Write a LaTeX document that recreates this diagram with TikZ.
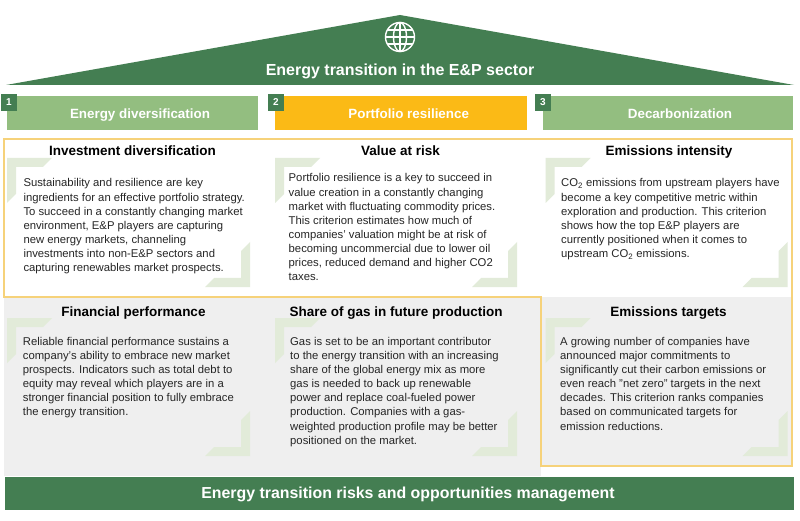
\documentclass[tikz,border=0pt]{standalone}
\usepackage{fontspec}
\setmainfont{Liberation Sans}
\definecolor{dgreen}{HTML}{447E52}
\definecolor{lgreen}{HTML}{93BE80}
\definecolor{hyellow}{HTML}{FBBA16}
\definecolor{oyellow}{HTML}{F6D27A}
\definecolor{cgray}{HTML}{EFEFEF}
\definecolor{brk}{HTML}{E2EBD9}
\definecolor{txt}{HTML}{262626}
\newcommand\fs{\rule{0pt}{10pt}}
\newcommand\tlbracket[2]{\fill[brk] (#1,#2) -- ++(45,0) -- ++(-9,9) -- ++(-27,0) -- ++(0,27) -- ++(-9,9) -- cycle;}
\newcommand\brbracket[2]{\fill[brk] (#1,#2) -- ++(-45,0) -- ++(9,-9) -- ++(27,0) -- ++(0,-27) -- ++(9,-9) -- cycle;}
\begin{document}
\begin{tikzpicture}[x=1pt,y=-1pt,
  body/.style={anchor=north west, inner sep=0, align=left, font=\fontsize{11.3}{14.15}\selectfont, text=txt},
  celltitle/.style={anchor=base, inner sep=0, font=\bfseries\fontsize{13.5}{16}\selectfont, text=black},
  hdrtext/.style={anchor=base, inner sep=0, font=\bfseries\fontsize{13.4}{16}\selectfont, text=white},
  numbox/.style={fill=dgreen, minimum width=16pt, minimum height=17pt, inner sep=0, text=white, font=\bfseries\fontsize{10}{12}\selectfont},
  bigtext/.style={anchor=base, inner sep=0, font=\bfseries\fontsize{16}{19}\selectfont, text=white}]
\useasboundingbox (0,0) rectangle (800,521);
\fill[white] (0,0) rectangle (800,521);
% roof
\fill[dgreen] (6,85) -- (400,15) -- (794,85) -- cycle;
\draw[white, line width=1.4pt] (400,37) circle [radius=14.5pt];
\draw[white, line width=1.4pt] (400,37) ellipse [x radius=6.5pt, y radius=14.5pt];
\draw[white, line width=1.2pt] (400,22.5) -- (400,51.5);
\draw[white, line width=1.2pt] (385.5,37) -- (414.5,37);
\draw[white, line width=1.2pt] (387.6,30) -- (412.4,30);
\draw[white, line width=1.2pt] (387.6,44) -- (412.4,44);
\node[bigtext] (roof) at (400,76) {Energy transition in the E\&P sector};
% headers
\fill[lgreen] (6.7,96.5) rectangle (258.3,130);
\fill[hyellow] (275,96.5) rectangle (527,130);
\fill[lgreen] (543,96.5) rectangle (793,130);
\node[numbox] (n1) at (9,102.5) {1};
\node[numbox] (n2) at (276,102.5) {2};
\node[numbox] (n3) at (543,102.5) {3};
\node[hdrtext] (h1) at (140,118.3) {Energy diversification};
\node[hdrtext] (h2) at (408.7,118.3) {Portfolio resilience};
\node[hdrtext] (h3) at (680,118.3) {Decarbonization};
% gray regions
\fill[cgray] (4,297) rectangle (541,476);
\fill[cgray] (541,297) rectangle (792,466);
% brackets
\tlbracket{7}{158}
\tlbracket{275}{158}
\tlbracket{545.5}{158}
\brbracket{250}{287}
\brbracket{517}{287}
\brbracket{787.5}{287}
\tlbracket{7}{318}
\tlbracket{275}{318}
\tlbracket{545.5}{318}
\brbracket{250}{456}
\brbracket{517}{456}
\brbracket{787.5}{456}
% outline
\draw[oyellow, line width=1.3pt] (4,139) -- (792,139) -- (792,466) -- (541,466) -- (541,297) -- (4,297) -- cycle;
% titles
\node[celltitle] (t1) at (132.5,155.5) {Investment diversification};
\node[celltitle] (t2) at (400.5,155.5) {Value at risk};
\node[celltitle] (t3) at (669,155.5) {Emissions intensity};
\node[celltitle] (t4) at (133.5,316.5) {Financial performance};
\node[celltitle] (t5) at (396,316.5) {Share of gas in future production};
\node[celltitle] (t6) at (668.5,316.5) {Emissions targets};
% body texts
\node[body] (b1) at (23.3,176.7) {\fs Sustainability and resilience are key\\
ingredients for an effective portfolio strategy.\\
To succeed in a constantly changing market\\
environment, E\&P players are capturing\\
new energy markets, channeling\\
investments into non-E\&P sectors and\\
capturing renewables market prospects.};
\node[body] (b2) at (288.5,171.7) {\fs Portfolio resilience is a key to succeed in\\
value creation in a constantly changing\\
market with fluctuating commodity prices.\\
This criterion estimates how much of\\
companies' valuation might be at risk of\\
becoming uncommercial due to lower oil\\
prices, reduced demand and higher CO2\\
taxes.};
\node[body] (b3) at (561,176.7) {\fs CO\textsubscript{2} emissions from upstream players have\\
become a key competitive metric within\\
exploration and production. This criterion\\
shows how the top E\&P players are\\
currently positioned when it comes to\\
upstream CO\textsubscript{2} emissions.};
\node[body] (b4) at (22.7,335) {\fs Reliable financial performance sustains a\\
company's ability to embrace new market\\
prospects. Indicators such as total debt to\\
equity may reveal which players are in a\\
stronger financial position to fully embrace\\
the energy transition.};
\node[body] (b5) at (290,335) {\fs Gas is set to be an important contributor\\
to the energy transition with an increasing\\
share of the global energy mix as more\\
gas is needed to back up renewable\\
power and replace coal-fueled power\\
production. Companies with a gas-\\
weighted production profile may be better\\
positioned on the market.};
\node[body] (b6) at (560,335) {\fs A growing number of companies have\\
announced major commitments to\\
significantly cut their carbon emissions or\\
even reach "net zero" targets in the next\\
decades. This criterion ranks companies\\
based on communicated targets for\\
emission reductions.};
% bottom bar
\fill[dgreen] (5,477) rectangle (794,510);
\node[bigtext, font=\bfseries\fontsize{15.9}{19}\selectfont] (bar) at (408,498.5) {Energy transition risks and opportunities management};
\end{tikzpicture}
\end{document}
